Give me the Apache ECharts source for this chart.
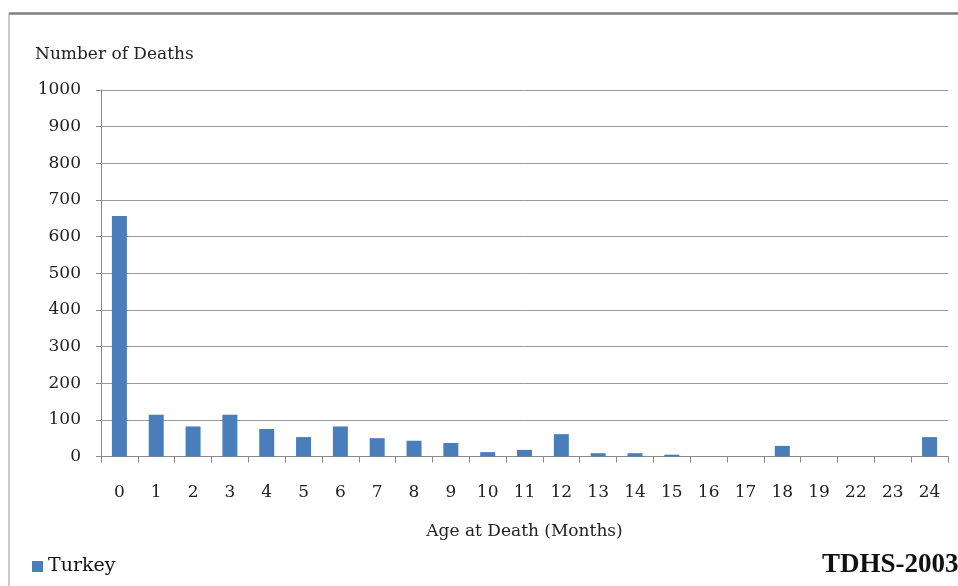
<!DOCTYPE html>
<html>
<head>
<meta charset="utf-8">
<script src="https://cdn.jsdelivr.net/npm/echarts@6/dist/echarts.min.js"></script>
<style>
  html, body { margin: 0; padding: 0; background: #fff; }
  #chart { width: 958px; height: 586px; }
</style>
</head>
<body>
<div id="chart"></div>
<script>
// Age at death, in months
const ageMonths = ['0', '1', '2', '3', '4', '5', '6', '7', '8', '9', '10', '11', '12',
                   '13', '14', '15', '16', '17', '18', '19', '22', '23', '24'];
// Number of deaths per age (Turkey)
const deathsTurkey = [656, 114, 82, 114, 75, 53, 82, 50, 43, 37, 12, 18, 61,
                      9, 9, 5, 0, 0, 29, 0, 0, 0, 53];
// Value axis ticks
const yMin = 0, yMax = 1000, yStep = 100;

const serif = 'DejaVu Serif';
const chart = echarts.init(document.getElementById('chart'), null, { renderer: 'canvas' });

chart.setOption({
  backgroundColor: '#ffffff',
  animation: false,
  grid: { left: 101, right: 10, top: 90, bottom: 129.5, containLabel: false },
  legend: {
    left: 32, top: 557, padding: 0,
    icon: 'rect', itemWidth: 11, itemHeight: 11, itemGap: 6,
    textStyle: { fontFamily: serif, fontSize: 19, color: '#111' },
    data: ['Turkey']
  },
  xAxis: {
    type: 'category',
    data: ageMonths,
    name: 'Age at Death (Months)',
    nameLocation: 'middle',
    nameGap: 67,
    nameTextStyle: { fontFamily: serif, fontSize: 17, color: '#222' },
    axisLine: { lineStyle: { color: '#8a8a8a', width: 1 } },
    axisTick: { show: true, length: 6, lineStyle: { color: '#8a8a8a' } },
    axisLabel: { fontFamily: serif, fontSize: 17, color: '#222', margin: 28, interval: 0 },
    splitLine: { show: false }
  },
  yAxis: {
    type: 'value',
    min: yMin, max: yMax, interval: yStep,
    axisLine: { show: true, lineStyle: { color: '#8a8a8a', width: 1 } },
    axisTick: { show: true, length: 5, lineStyle: { color: '#8a8a8a' } },
    axisLabel: { fontFamily: serif, fontSize: 17, color: '#222', margin: 20,
                 formatter: (v) => String(v) },
    splitLine: { lineStyle: { color: '#999999', width: 1 } }
  },
  series: [{
    name: 'Turkey',
    type: 'bar',
    data: deathsTurkey,
    barWidth: 15,
    itemStyle: { color: '#4a7ebb' }
  }],
  graphic: [
    // frame: top and left edges
    { type: 'line', shape: { x1: 9, y1: 13.5, x2: 958, y2: 13.5 },
      style: { stroke: '#7f7f7f', lineWidth: 2.5 } },
    { type: 'line', shape: { x1: 9, y1: 13, x2: 9, y2: 586 },
      style: { stroke: '#a6a6a6', lineWidth: 1.2 } },
    { type: 'text', left: 35, top: 46,
      style: { text: 'Number of Deaths', font: '17px "DejaVu Serif"', fill: '#222' } },
    { type: 'text', left: 822, top: 552,
      style: { text: 'TDHS-2003', font: 'bold 27px "Liberation Serif"', fill: '#111' } }
  ]
});
</script>
</body>
</html>
